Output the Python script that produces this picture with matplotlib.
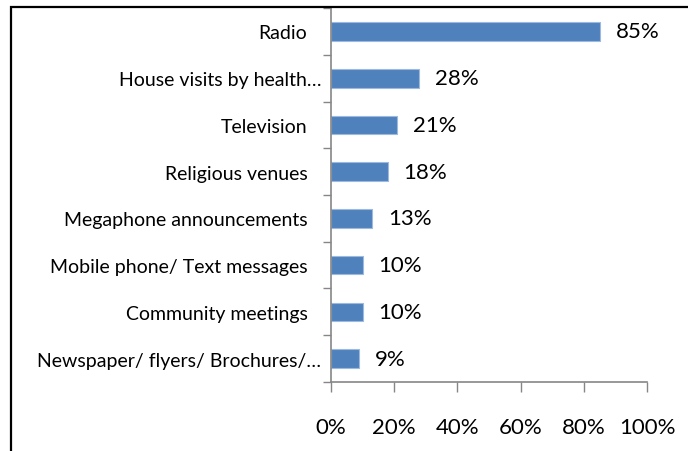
import numpy as np
import matplotlib.pyplot as plt
from matplotlib.patches import Rectangle
from matplotlib.transforms import ScaledTranslation

# ============================================================
# Data
# ============================================================
categories = [
    "Radio",
    "House visits by health\u2026",
    "Television",
    "Religious venues",
    "Megaphone announcements",
    "Mobile phone/ Text messages",
    "Community meetings",
    "Newspaper/ flyers/ Brochures/\u2026",
]
values = [85, 28, 21, 18, 13, 10, 10, 9]
x_ticks = [0, 20, 40, 60, 80, 100]
x_tick_labels = ["0%", "20%", "40%", "60%", "80%", "100%"]

plt.rcParams['font.family'] = ['Lato', 'DejaVu Sans']

fig = plt.figure(figsize=(6.88, 4.52), dpi=100)
ax = fig.add_axes([0.4811, 0.1527, 0.4593, 0.8273])

n = len(categories)
ypos = np.arange(n)[::-1]
ax.barh(ypos, values, height=0.4, color="#4F81BD", edgecolor="#9DB9DE", linewidth=0.8)

for y, v in zip(ypos, values):
    ax.text(v + 5, y, f"{v}%", va="center", ha="left", fontsize=16, color="black")

ax.set_xlim(0, 100)
ax.set_ylim(-0.5, n - 0.5)
ax.set_xticks(x_ticks)
ax.set_xticklabels(x_tick_labels, fontsize=16)
ax.set_yticks(ypos)
ax.set_yticklabels(categories, fontsize=14)

# Category boundary tick marks
ax.set_yticks(np.arange(-0.5, n, 1.0), minor=True)
ax.tick_params(axis='y', which='major', length=0, pad=17)
ax.tick_params(axis='y', which='minor', length=6, width=1, color="#868686")
ax.tick_params(axis='x', length=7, width=1, color="#868686", pad=18)

# truncated labels sit closer to the axis
for lbl in ax.get_yticklabels():
    if lbl.get_text().endswith("\u2026"):
        lbl.set_transform(lbl.get_transform() + ScaledTranslation(0.14, 0, fig.dpi_scale_trans))

for side in ["top", "right"]:
    ax.spines[side].set_visible(False)
for side in ["left", "bottom"]:
    ax.spines[side].set_color("#868686")
    ax.spines[side].set_linewidth(1.2)

# Outer chart frame (right and bottom edges run past the image)
fig.patches.append(Rectangle((11 / 688, -0.1), 1.2, 1.1 - 8 / 452,
                             transform=fig.transFigure, fill=False,
                             edgecolor="black", linewidth=1.6))

fig.savefig("out.png", dpi=100)
